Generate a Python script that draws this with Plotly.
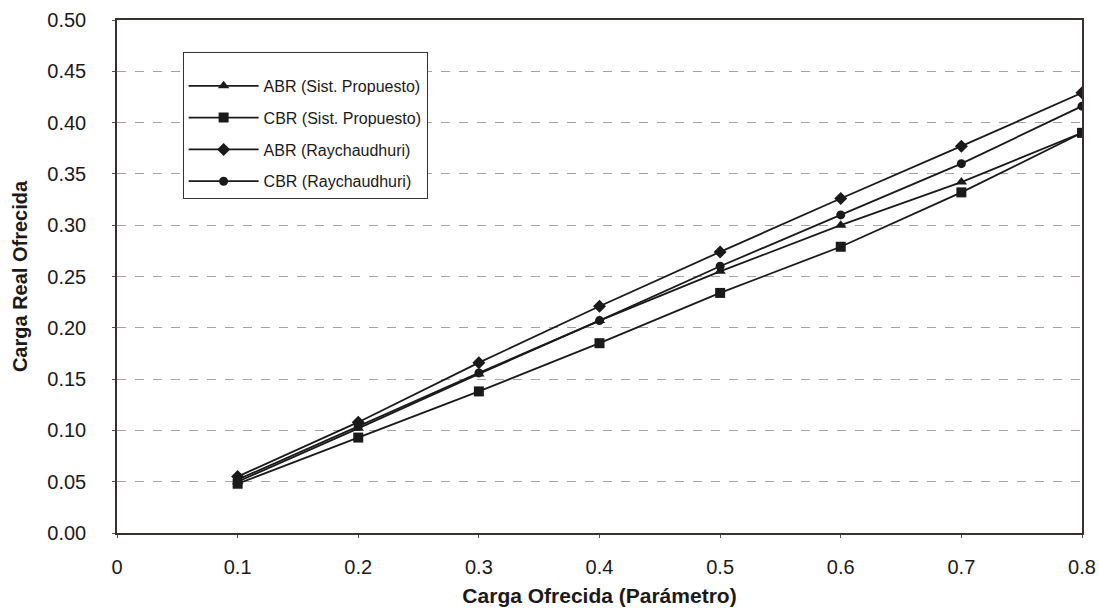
import plotly.graph_objects as go

x_vals = [0.1, 0.2, 0.3, 0.4, 0.5, 0.6, 0.7, 0.8]
abr_prop = [0.050, 0.102, 0.155, 0.207, 0.255, 0.300, 0.342, 0.390]
cbr_prop = [0.048, 0.093, 0.138, 0.185, 0.234, 0.279, 0.332, 0.390]
abr_ray = [0.055, 0.108, 0.166, 0.221, 0.274, 0.326, 0.377, 0.429]
cbr_ray = [0.052, 0.104, 0.156, 0.207, 0.260, 0.310, 0.360, 0.416]

names = ["ABR (Sist. Propuesto)", "CBR (Sist. Propuesto)",
         "ABR (Raychaudhuri)", "CBR (Raychaudhuri)"]
series = [abr_prop, cbr_prop, abr_ray, cbr_ray]
symbols = ["triangle-up", "square", "diamond", "circle"]
sizes = [10, 10, 10, 9]

x_ticks = [0, 0.1, 0.2, 0.3, 0.4, 0.5, 0.6, 0.7, 0.8]
x_ticktext = ["0", "0.1", "0.2", "0.3", "0.4", "0.5", "0.6", "0.7", "0.8"]
y_ticks = [0.00, 0.05, 0.10, 0.15, 0.20, 0.25, 0.30, 0.35, 0.40, 0.45, 0.50]

fig = go.Figure()
for i, (nm, ys, sym, sz) in enumerate(zip(names, series, symbols, sizes)):
    fig.add_trace(go.Scatter(
        x=x_vals, y=ys, name=nm, mode="lines+markers",
        line=dict(color="#1a1a1a", width=1.8),
        marker=dict(symbol=sym, size=sz, color="#1a1a1a"),
        legendgroup=f"g{i}",
    ))

fig.update_layout(
    width=1099, height=614,
    margin=dict(l=117, r=17, t=20, b=81),
    paper_bgcolor="white", plot_bgcolor="white",
    font=dict(family="Arial, Liberation Sans, sans-serif", size=18, color="#1a1a1a"),
    showlegend=True,
    legend=dict(
        x=0.068, y=0.937, xanchor="left", yanchor="top",
        bgcolor="white", bordercolor="#333", borderwidth=1,
        font=dict(size=16), tracegroupgap=8, itemwidth=70,
        title=dict(text=" ", font=dict(size=12)),
    ),
    xaxis=dict(
        range=[0, 0.8], tickvals=x_ticks, ticktext=x_ticktext,
        showgrid=False, zeroline=False, automargin=False,
        showline=True, linecolor="#3a3030", linewidth=1.5, mirror=True,
        ticks="outside", ticklen=3, tickcolor="#555",
        ticklabelstandoff=12,
        title=dict(text="<b>Carga Ofrecida (Parámetro)</b>", font=dict(size=21), standoff=12),
        tickfont=dict(size=20),
    ),
    yaxis=dict(
        range=[0, 0.5], tickvals=y_ticks, tickformat=".2f",
        showgrid=True, gridcolor="#a8a0a8", griddash="dash", gridwidth=1,
        zeroline=False, automargin=False,
        showline=True, linecolor="#3a3030", linewidth=1.5, mirror=True,
        ticks="outside", ticklen=3, tickcolor="#555",
        ticklabelstandoff=22,
        title=dict(text="<b>Carga Real Ofrecida</b>", font=dict(size=20), standoff=14),
        tickfont=dict(size=20),
    ),
)

fig.write_html("out.html")
